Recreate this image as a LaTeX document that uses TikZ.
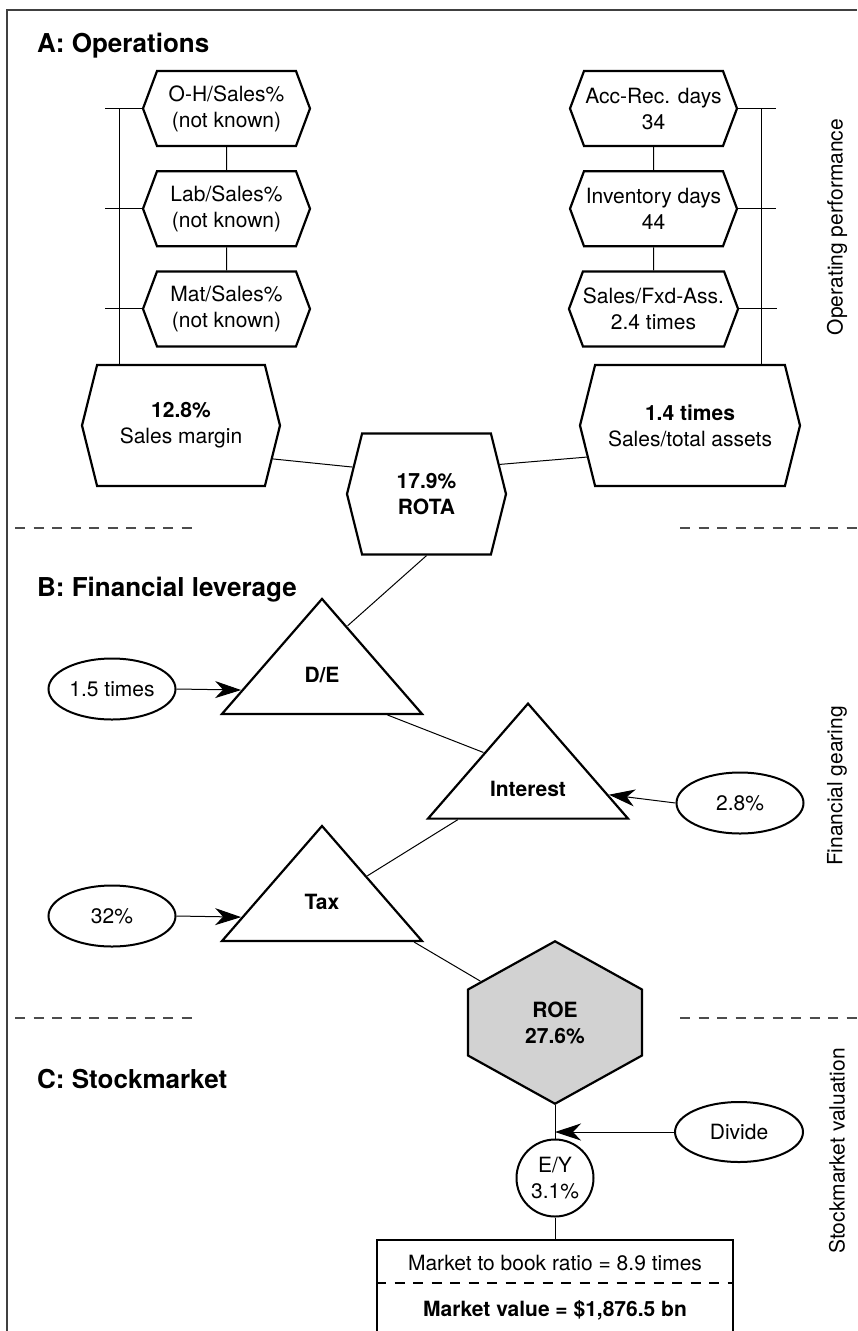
\documentclass[tikz,border=0pt]{standalone}
\usepackage{fontspec}
\setmainfont{TeX Gyre Heros}
\usepackage{tikz}
\usetikzlibrary{
  positioning, shapes, shapes.geometric, shapes.symbols,
  arrows.meta, calc
}
\newcommand{\bodysize}{\fontsize{21}{26}\selectfont}
\newcommand{\headsize}{\fontsize{26}{30}\selectfont\bfseries}
\tikzset{
  hexbox/.style={
    signal, signal to=east and west, signal pointer angle=139,
    draw, line width=2.2pt, fill=white,
    minimum width=167pt, minimum height=75pt, inner sep=0pt,
    align=center, font=\bodysize
  },
  bighex/.style={
    hexbox, signal pointer angle=152,
    minimum width=#1, minimum height=121pt
  },
  roehex/.style={
    signal, signal to=north and south, signal pointer angle=122,
    draw, line width=2.2pt, fill=gray!35,
    minimum width=174pt, minimum height=99pt, inner sep=0pt,
    align=center, font=\bodysize\bfseries
  },
  tribox/.style={
    isosceles triangle, isosceles triangle stretches, shape border rotate=90,
    draw, line width=2.2pt, minimum width=200pt, minimum height=115pt,
    inner sep=0pt, font=\bodysize\bfseries
  },
  rate/.style={
    ellipse, draw, line width=2pt,
    minimum width=127pt, minimum height=61pt, inner sep=0pt,
    align=center, font=\bodysize
  },
  arrow/.style={-{Stealth[length=26pt, width=17pt, inset=8pt]}, line width=1pt},
  link/.style={line width=1pt},
  sepline/.style={draw=black!70, line width=1.1pt, dash pattern=on 10pt off 8.5pt}
}

\begin{document}
\begin{tikzpicture}[x=1pt, y=-1pt,
  heading/.style={font=\headsize, inner sep=0pt},
  sidelabel/.style={rotate=90, font=\bodysize, inner sep=0pt},
  boxtext/.style={font=\bodysize, inner sep=0pt}
]
\useasboundingbox (0,0) rectangle (857,1331);

%% frame and section separators
\draw[draw=black!75, line width=1.3pt] (7,1331) -- (7,10) -- (857,10);
\draw[sepline] (15,528) -- (197,528);
\draw[sepline] (680,528) -- (857,528);
\draw[sepline] (15,1018) -- (197,1018);
\draw[sepline] (680,1018) -- (857,1018);

%% A: Operations
\node[heading, anchor=base west] (headA) at (37,52) {A: Operations};
\node[hexbox] (ohs) at (226.5,108.5) {O-H/Sales\%\\(not known)};
\node[hexbox, below=23pt of ohs] (labs) {Lab/Sales\%\\(not known)};
\node[hexbox, below=23pt of labs] (mats) {Mat/Sales\%\\(not known)};

\node[hexbox] (accrec) at (653.5,108.5) {Acc-Rec. days\\34};
\node[hexbox, below=23pt of accrec] (invdays) {Inventory days\\44};
\node[hexbox, below=23pt of invdays] (salesfxd) {Sales/Fxd-Ass.\\2.4 times};

\node[bighex=198pt] (margin) at (181,425.5) {\textbf{12.8\%}\\Sales margin};
\node[bighex=220pt] (assets) at (690,425.5) {\textbf{1.4 times}\\Sales/total assets};
\node[bighex=159pt, font=\bodysize\bfseries] (rota) at (426.5,494) {17.9\%\\ROTA};

\node[sidelabel] (oplabel) at (837,227) {Operating performance};

% hexagon chains
\draw[link] (ohs) -- (labs);
\draw[link] (labs) -- (mats);
\draw[link] (accrec) -- (invdays);
\draw[link] (invdays) -- (salesfxd);

% brackets
\draw[link] (ohs.west) -- ++(-37,0);
\draw[link] (labs.west) -- ++(-37,0);
\draw[link] (mats.west) -- ++(-37,0);
\draw[link] ([xshift=-22pt]ohs.west) -- ([xshift=-22pt]ohs.west |- margin.north);
\draw[link] (accrec.east) -- ++(38,0);
\draw[link] (invdays.east) -- ++(38,0);
\draw[link] (salesfxd.east) -- ++(38,0);
\draw[link] ([xshift=23pt]accrec.east) -- ([xshift=23pt]accrec.east |- assets.north);

% into ROTA
\draw[link] (margin.-20) -- (rota.160);
\draw[link] (assets.197) -- (rota.22);

%% B: Financial leverage
\node[heading, anchor=base west] (headB) at (37,596) {B: Financial leverage};
\node[tribox] (de) at (322,674.7) {D/E};
\node[tribox] (interest) at (528,788.7) {Interest};
\node[tribox] (tax) at (322,901.7) {Tax};

\node[rate] (times) at (112,689) {1.5 times};
\node[rate] (intrate) at (740,803) {2.8\%};
\node[rate] (taxrate) at (112,916) {32\%};

\node[sidelabel] (fglabel) at (837,786) {Financial gearing};

\draw[link] (rota.south) -- ($(de.apex)!0.25!(de.right corner)$);
\draw[link] ($(de.left corner)!0.82!(de.right corner)$) -- ($(interest.left corner)!0.565!(interest.apex)$);
\draw[link] ($(interest.left corner)!0.157!(interest.right corner)$) -- ($(tax.apex)!0.443!(tax.right corner)$);

\draw[arrow] (times.east) -- ($(de.left corner)!0.21!(de.apex)$);
\draw[arrow] (intrate.west) -- ($(interest.right corner)!0.21!(interest.apex)$);
\draw[arrow] (taxrate.east) -- ($(tax.left corner)!0.21!(tax.apex)$);

%% C: Stockmarket
\node[heading, anchor=base west] (headC) at (37,1088) {C: Stockmarket};
\node[roehex] (roe) at (555,1022.5) {ROE\\27.6\%};
\node[circle, draw, line width=2pt, minimum size=77pt, inner sep=0pt,
  align=center, font=\bodysize] (ey) at (555,1178) {E/Y\\3.1\%};
\node[rate, minimum width=128pt, minimum height=60pt] (divide) at (739,1132) {Divide};
\node[draw, line width=2pt, minimum width=356pt, minimum height=130pt,
  anchor=north] (mbox) at (555,1239) {};
\node[boxtext] (mtb) at (555,1263) {Market to book ratio = 8.9 times};
\node[boxtext, font=\bodysize\bfseries] (mval) at (555,1310) {Market value = \$1,876.5 bn};

\node[sidelabel] (smlabel) at (837,1151) {Stockmarket valuation};

\draw[link] ($(tax.left corner)!0.95!(tax.right corner)$) -- (roe.151);
\draw[link] (roe.south) -- (ey.north);
\draw[arrow] (divide.west) -- (divide.west -| roe.south);
\draw[link] (ey.south) -- (mbox.north);
\draw[sepline, draw=black] (mbox.west |- 0,1283) -- (mbox.east |- 0,1283);

\end{tikzpicture}
\end{document}
